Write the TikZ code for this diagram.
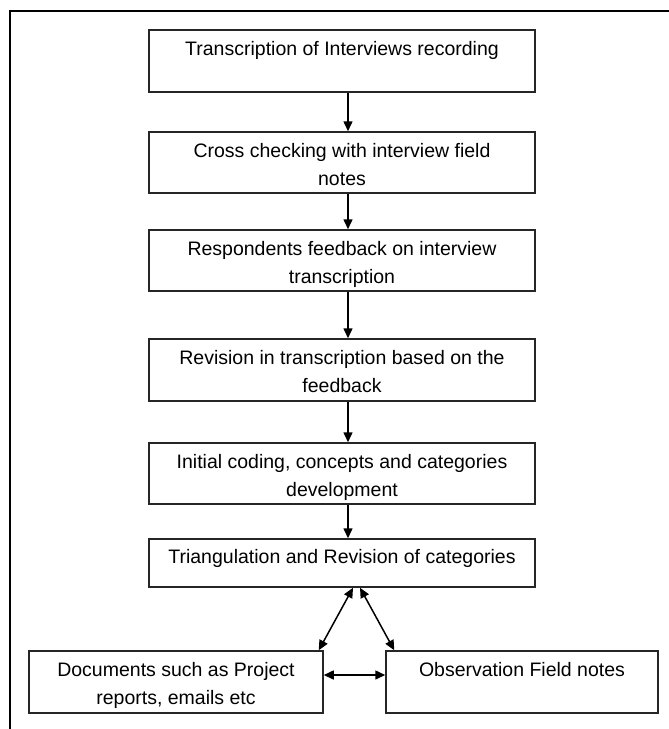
\documentclass[tikz,border=0pt]{standalone}
\usepackage{fontspec}
\setmainfont{Liberation Sans}
\usetikzlibrary{arrows.meta}
\begin{document}
\begin{tikzpicture}[x=1pt,y=-1pt,
  box/.style={draw=black!85, line width=1.5pt, rectangle, inner sep=0pt, minimum width=386pt},
  txt/.style={anchor=north, inner sep=0pt, align=center, font=\fontsize{19.5}{28}\selectfont},
  arr/.style={line width=1.5pt, -{Triangle[length=10pt,width=9pt]}},
  darr/.style={line width=1.5pt, {Triangle[length=10pt,width=9pt]}-{Triangle[length=10pt,width=9pt]}}]
\useasboundingbox (0,0) rectangle (669,729);
\fill[white] (0,0) rectangle (669,729);
% outer frame (top and left only)
\draw[line width=2.5pt] (10,729) -- (10,11) -- (669,11);
% boxes
\node[box, minimum height=62pt] (b1) at (342,61) {};
\node[box, minimum height=61pt] (b2) at (342,162.5) {};
\node[box, minimum height=61pt] (b3) at (342,260.5) {};
\node[box, minimum height=62pt] (b4) at (342,370) {};
\node[box, minimum height=61pt] (b5) at (342,473.5) {};
\node[box, minimum height=48pt] (b6) at (342,563) {};
\node[box, minimum width=294pt, minimum height=62pt] (b7) at (176,682) {};
\node[box, minimum width=272pt, minimum height=62pt] (b8) at (522,682) {};
% texts
\node[txt] (t1) at ([yshift=-12pt]b1.north) {Transcription of Interviews recording};
\node[txt] (t2) at ([yshift=-12pt]b2.north) {Cross checking with interview field\\notes};
\node[txt] (t3) at ([yshift=-12pt]b3.north) {Respondents feedback on interview\\transcription};
\node[txt] (t4) at ([yshift=-12pt]b4.north) {Revision in transcription based on the\\feedback};
\node[txt] (t5) at ([yshift=-12pt]b5.north) {Initial coding, concepts and categories\\development};
\node[txt] (t6) at ([yshift=-11pt]b6.north) {Triangulation and Revision of categories};
\node[txt] (t7) at ([yshift=-12pt]b7.north) {Documents such as Project\\reports, emails etc};
\node[txt] (t8) at ([yshift=-12pt]b8.north) {Observation Field notes};
% connectors
\draw[arr] ([xshift=6pt]b1.south) -- ([xshift=6pt]b2.north);
\draw[arr] ([xshift=6pt]b2.south) -- ([xshift=6pt]b3.north);
\draw[arr] ([xshift=6pt]b3.south) -- ([xshift=6pt]b4.north);
\draw[arr] ([xshift=6pt]b4.south) -- ([xshift=6pt]b5.north);
\draw[arr] ([xshift=6pt]b5.south) -- ([xshift=6pt]b6.north);
\draw[darr] ([xshift=11pt]b6.south) -- ([xshift=-5pt]b7.north east);
\draw[darr] ([xshift=18pt]b6.south) -- ([xshift=9pt]b8.north west);
\draw[darr] ([yshift=7pt]b7.east) -- ([yshift=7pt]b8.west);
\end{tikzpicture}
\end{document}
